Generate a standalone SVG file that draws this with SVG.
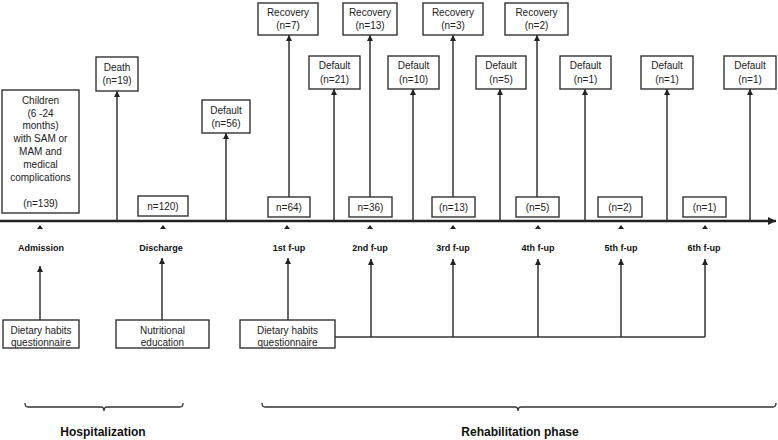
<svg xmlns="http://www.w3.org/2000/svg" width="778" height="440" viewBox="0 0 778 440">
<style>
.box{fill:#fff;stroke:#333;stroke-width:1.4}
.t{font-family:"Liberation Sans",Arial,sans-serif;font-size:10px;fill:#222;text-anchor:middle}
.lb{font-family:"Liberation Sans",Arial,sans-serif;font-size:9px;font-weight:bold;fill:#111;text-anchor:middle}
.ph{font-family:"Liberation Sans",Arial,sans-serif;font-size:12px;font-weight:bold;fill:#111;text-anchor:middle}
.c{stroke:#333;stroke-width:1.5;fill:none}
.ca{stroke:#333;stroke-width:1.5;fill:none;marker-end:url(#ah)}
.tick{fill:#222}
.brace{stroke:#333;stroke-width:1.3;fill:none}
</style>
<defs>
<marker id="ah" viewBox="0 0 10 10" refX="10" refY="5" markerUnits="userSpaceOnUse" markerWidth="6" markerHeight="6" orient="auto"><path d="M0,0 L10,5 L0,10 z" fill="#222"/></marker>
<marker id="ahl" viewBox="0 0 10 10" refX="10" refY="5" markerUnits="userSpaceOnUse" markerWidth="8" markerHeight="8" orient="auto"><path d="M0,0 L10,5 L0,10 z" fill="#222"/></marker>
</defs>
<rect width="778" height="440" fill="#fff"/>

<g id="connectors">
<line x1="0" y1="221" x2="776" y2="221" stroke="#222" stroke-width="2.5" marker-end="url(#ahl)"/>
<line class="ca" x1="117" y1="221" x2="117" y2="91"/>
<line class="ca" x1="226" y1="221" x2="226" y2="133"/>
<line class="ca" x1="289" y1="197" x2="289" y2="35"/>
<line class="ca" x1="334" y1="221" x2="334" y2="89"/>
<line class="ca" x1="370" y1="197" x2="370" y2="35"/>
<line class="ca" x1="413" y1="221" x2="413" y2="89"/>
<line class="ca" x1="453" y1="197" x2="453" y2="35"/>
<line class="ca" x1="500" y1="221" x2="500" y2="89"/>
<line class="ca" x1="537" y1="197" x2="537" y2="35"/>
<line class="ca" x1="585" y1="221" x2="585" y2="89"/>
<line class="ca" x1="667" y1="221" x2="667" y2="89"/>
<line class="ca" x1="750" y1="221" x2="750" y2="89"/>
<line class="ca" x1="40" y1="320" x2="40" y2="266"/>
<line class="ca" x1="162" y1="320" x2="162" y2="258"/>
<line class="ca" x1="288" y1="320" x2="288" y2="258"/>
<line class="c" x1="335" y1="337" x2="705" y2="337"/>
<line class="ca" x1="371" y1="337" x2="371" y2="259"/>
<line class="ca" x1="453" y1="337" x2="453" y2="259"/>
<line class="ca" x1="538" y1="337" x2="538" y2="259"/>
<line class="ca" x1="621" y1="337" x2="621" y2="259"/>
<line class="ca" x1="705" y1="337" x2="705" y2="259"/>
<path class="tick" d="M37,229 L43,229 L40,225 z M160,229 L166,229 L163,225 z M284,229 L290,229 L287,225 z M367,229 L373,229 L370,225 z M450,229 L456,229 L453,225 z M535,229 L541,229 L538,225 z M618,229 L624,229 L621,225 z M702,229 L708,229 L705,225 z"/>
</g>

<g id="children"><rect class="box" x="2" y="90" width="77" height="123"/>
<text class="t" x="40.5" y="103.5">Children</text>
<text class="t" x="40.5" y="116.5">(6 -24</text>
<text class="t" x="40.5" y="128.5">months)</text>
<text class="t" x="40.5" y="141.5">with SAM or</text>
<text class="t" x="40.5" y="154.5">MAM and</text>
<text class="t" x="40.5" y="167.5">medical</text>
<text class="t" x="40.5" y="180.5">complications</text>
<text class="t" x="40.5" y="206.5">(n=139)</text></g>

<g id="death"><rect class="box" x="96" y="57" width="42" height="34"/><text class="t" x="117" y="70.5">Death</text><text class="t" x="117" y="83.5">(n=19)</text></g>
<g id="default56"><rect class="box" x="202" y="100" width="48" height="33"/><text class="t" x="226" y="113.5">Default</text><text class="t" x="226" y="126.5">(n=56)</text></g>
<g id="n120"><rect class="box" x="138" y="196" width="50" height="20"/><text class="t" x="163" y="209.5">n=120)</text></g>

<g id="rec7"><rect class="box" x="258" y="3" width="60" height="32"/><text class="t" x="288" y="15.5">Recovery</text><text class="t" x="288" y="28.5">(n=7)</text></g>
<g id="def21"><rect class="box" x="309" y="56" width="51" height="33"/><text class="t" x="334.5" y="68.5">Default</text><text class="t" x="334.5" y="82.5">(n=21)</text></g>
<g id="rec13"><rect class="box" x="343" y="3" width="54" height="32"/><text class="t" x="370" y="15.5">Recovery</text><text class="t" x="370" y="28.5">(n=13)</text></g>
<g id="def10"><rect class="box" x="388" y="56" width="51" height="33"/><text class="t" x="413.5" y="68.5">Default</text><text class="t" x="413.5" y="82.5">(n=10)</text></g>
<g id="rec3"><rect class="box" x="423" y="3" width="60" height="32"/><text class="t" x="453" y="15.5">Recovery</text><text class="t" x="453" y="28.5">(n=3)</text></g>
<g id="def5"><rect class="box" x="476" y="56" width="50" height="33"/><text class="t" x="501" y="68.5">Default</text><text class="t" x="501" y="82.5">(n=5)</text></g>
<g id="rec2"><rect class="box" x="505" y="3" width="63" height="32"/><text class="t" x="536.5" y="15.5">Recovery</text><text class="t" x="536.5" y="28.5">(n=2)</text></g>
<g id="def1a"><rect class="box" x="560" y="56" width="51" height="33"/><text class="t" x="585.5" y="68.5">Default</text><text class="t" x="585.5" y="82.5">(n=1)</text></g>
<g id="def1b"><rect class="box" x="641" y="56" width="52" height="33"/><text class="t" x="667" y="68.5">Default</text><text class="t" x="667" y="82.5">(n=1)</text></g>
<g id="def1c"><rect class="box" x="724" y="56" width="52" height="33"/><text class="t" x="750" y="68.5">Default</text><text class="t" x="750" y="82.5">(n=1)</text></g>

<g id="n64"><rect class="box" x="268" y="197" width="42" height="20"/><text class="t" x="289" y="210.5">n=64)</text></g>
<g id="n36"><rect class="box" x="349" y="197" width="43" height="20"/><text class="t" x="370.5" y="210.5">n=36)</text></g>
<g id="n13"><rect class="box" x="432" y="197" width="43" height="20"/><text class="t" x="453.5" y="210.5">(n=13)</text></g>
<g id="n5"><rect class="box" x="516" y="197" width="43" height="20"/><text class="t" x="537.5" y="210.5">(n=5)</text></g>
<g id="n2"><rect class="box" x="598" y="197" width="44" height="20"/><text class="t" x="620" y="210.5">(n=2)</text></g>
<g id="n1"><rect class="box" x="683" y="197" width="43" height="20"/><text class="t" x="704.5" y="210.5">(n=1)</text></g>

<g id="labels">
<text class="lb" x="41" y="251">Admission</text>
<text class="lb" x="161" y="251">Discharge</text>
<text class="lb" x="289" y="251">1st f-up</text>
<text class="lb" x="370" y="251">2nd f-up</text>
<text class="lb" x="453" y="251">3rd f-up</text>
<text class="lb" x="538" y="251">4th f-up</text>
<text class="lb" x="621" y="251">5th f-up</text>
<text class="lb" x="704" y="251">6th f-up</text>
</g>

<g id="q1"><rect class="box" x="3" y="320" width="76" height="28"/><text class="t" x="41" y="333.5">Dietary habits</text><text class="t" x="41" y="346">questionnaire</text></g>
<g id="edu"><rect class="box" x="116" y="320" width="93" height="28"/><text class="t" x="162.5" y="333.5">Nutritional</text><text class="t" x="162.5" y="346">education</text></g>
<g id="q2"><rect class="box" x="240" y="320" width="95" height="28"/><text class="t" x="287.5" y="333.5">Dietary habits</text><text class="t" x="287.5" y="346">questionnaire</text></g>

<g id="hospitalization">
<path class="brace" d="M25,403 Q25,407 28,407 L101,407 Q104,407 104,411 Q104,407 107,407 L180,407 Q183,407 183,403"/>
<text class="ph" x="103" y="436">Hospitalization</text>
</g>
<g id="rehabilitation">
<path class="brace" d="M262,403 Q262,407 265,407 L515,407 Q518,407 518,411 Q518,407 521,407 L773,407 Q776,407 776,403"/>
<text class="ph" x="520" y="436">Rehabilitation phase</text>
</g>
</svg>
